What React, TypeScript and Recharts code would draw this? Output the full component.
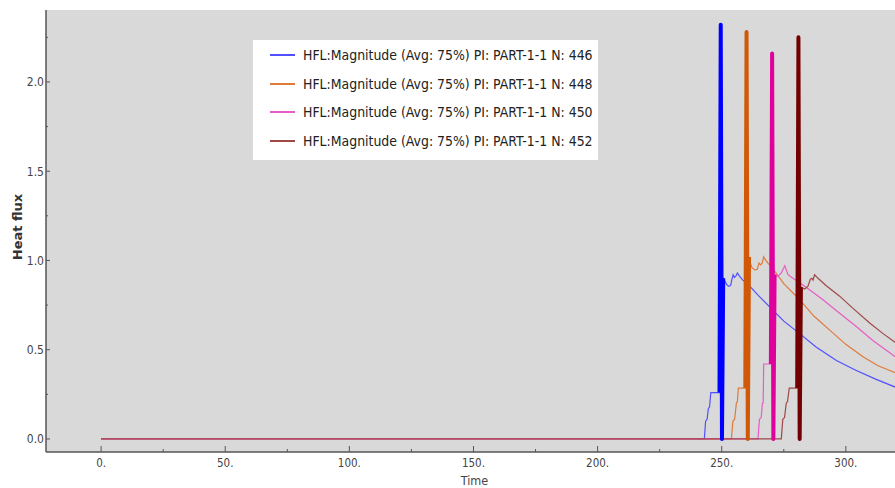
import React from 'react';
import { LineChart, Line, XAxis, YAxis, CartesianGrid, Legend } from 'recharts';

// ---- data ----
const seriesNames = [
  'HFL:Magnitude (Avg: 75%) PI: PART-1-1 N: 446',
  'HFL:Magnitude (Avg: 75%) PI: PART-1-1 N: 448',
  'HFL:Magnitude (Avg: 75%) PI: PART-1-1 N: 450',
  'HFL:Magnitude (Avg: 75%) PI: PART-1-1 N: 452',
];

const t446 = [0, 243.0, 243.5, 244.1, 244.6, 245.1, 245.6, 249.1, 249.6, 250.1, 250.6, 251.3, 252.0, 252.8, 253.6, 254.2, 254.6, 255.1, 255.8, 256.3, 257.0, 258.5, 261, 265, 269.3, 275, 281.4, 288, 296.2, 304, 312, 320];
const v446 = [0, 0, 0.1, 0.11, 0.17, 0.18, 0.26, 0.26, 2.32, 0.0, 0.9, 0.885, 0.865, 0.855, 0.86, 0.9, 0.92, 0.905, 0.915, 0.93, 0.915, 0.89, 0.86, 0.8, 0.74, 0.66, 0.59, 0.515, 0.44, 0.385, 0.335, 0.29];

const t448 = [0, 253.9, 254.5, 255.2, 255.9, 256.3, 256.7, 259.5, 260.0, 260.5, 261.0, 261.4, 262.2, 263.3, 264.3, 265.0, 265.6, 266.3, 266.9, 267.8, 268.6, 270, 275, 281.4, 287, 293.5, 300, 306.9, 313, 320];
const v448 = [0, 0, 0.1, 0.11, 0.2, 0.21, 0.285, 0.285, 2.28, 0.0, 1.02, 0.99, 0.96, 0.947, 0.95, 0.985, 0.975, 0.985, 1.02, 1.0, 0.985, 0.965, 0.87, 0.78, 0.69, 0.61, 0.53, 0.46, 0.41, 0.37];

const t450 = [0, 264.6, 265.2, 265.9, 266.4, 266.7, 266.9, 269.8, 270.3, 270.8, 271.3, 271.8, 272.7, 274.0, 275.4, 276.7, 278.7, 284, 290.8, 297, 304.2, 311, 320];
const v450 = [0, 0, 0.11, 0.12, 0.2, 0.2, 0.42, 0.42, 2.16, 0.0, 0.92, 0.92, 0.91, 0.93, 0.97, 0.92, 0.9, 0.85, 0.78, 0.71, 0.63, 0.55, 0.46];

const t452 = [0, 274.0, 274.6, 275.3, 276.0, 276.5, 277.2, 280.4, 280.9, 281.4, 281.9, 282.2, 283.4, 284.7, 285.7, 286.3, 286.8, 287.4, 288.8, 292, 297.5, 303, 309.6, 315, 320];
const v452 = [0, 0, 0.11, 0.12, 0.2, 0.21, 0.285, 0.285, 2.25, 0.0, 0.85, 0.85, 0.84, 0.855, 0.895, 0.9, 0.89, 0.92, 0.9, 0.86, 0.8, 0.73, 0.65, 0.59, 0.54];

// dense oscillation bands (drawn heavier)
const spikeT446 = [249.1, 249.6, 250.1, 250.6];
const spikeV446 = [0.26, 2.32, 0.0, 0.9];
const spikeT448 = [259.5, 260.0, 260.5, 261.0];
const spikeV448 = [0.285, 2.28, 0.0, 1.02];
const spikeT450 = [269.8, 270.3, 270.8, 271.3];
const spikeV450 = [0.42, 2.16, 0.0, 0.92];
const spikeT452 = [280.4, 280.9, 281.4, 281.9];
const spikeV452 = [0.285, 2.25, 0.0, 0.85];

const xTicks = [0, 25, 50, 75, 100, 125, 150, 175, 200, 225, 250, 275, 300];
const xMajor = [0, 50, 100, 150, 200, 250, 300];
const yTicks = [0, 0.25, 0.5, 0.75, 1.0, 1.25, 1.5, 1.75, 2.0, 2.25];
const yMajor = [0, 0.5, 1.0, 1.5, 2.0];

const lineColors = ['#5050ff', '#e07a3a', '#e85cc4', '#a04848'];
const spikeColors = ['#0000ff', '#d05806', '#e0009c', '#720000'];

const zip = (t: number[], v: number[]) => t.map((x, i) => ({ t: x, v: v[i] }));
const mainData = [zip(t446, v446), zip(t448, v448), zip(t450, v450), zip(t452, v452)];
const spikeData = [zip(spikeT446, spikeV446), zip(spikeT448, spikeV448), zip(spikeT450, spikeV450), zip(spikeT452, spikeV452)];

const AXIS = '#555';
const TXT = '#444';
const FONT = "'DejaVu Sans Condensed', 'DejaVu Sans', sans-serif";

const BM = 4; // bottom tick margin
const BottomTick = (p: any) => {
  const { x, y, payload } = p;
  const v = payload.value;
  const major = xMajor.includes(v);
  const ay = y - BM;
  return (
    <g>
      <line x1={x} x2={x} y1={ay} y2={ay - (major ? 6 : 3)} stroke={AXIS} strokeWidth={1} />
      {major && (
        <text x={x} y={ay + 14.5} textAnchor="middle" fill={TXT} fontSize={11.5} fontFamily={FONT} style={{ fontStretch: 'condensed' }}>
          {`${v}.`}
        </text>
      )}
    </g>
  );
};

const TopTick = (p: any) => {
  const { x, y, payload } = p;
  const major = xMajor.includes(payload.value);
  return <line x1={x} x2={x} y1={y} y2={y + (major ? 7 : 3)} stroke={AXIS} strokeWidth={1} />;
};

const LM = 2;
const LeftTick = (p: any) => {
  const { x, y, payload } = p;
  const v = payload.value;
  const major = yMajor.includes(v);
  const ax = x + LM;
  return (
    <g>
      <line x1={ax} x2={ax + (major ? 4 : 2)} y1={y} y2={y} stroke={AXIS} strokeWidth={1} />
      {major && (
        <text x={ax - 2} y={y} dy="0.36em" textAnchor="end" fill={TXT} fontSize={12} fontFamily={FONT} style={{ fontStretch: 'condensed' }}>
          {v.toFixed(1)}
        </text>
      )}
    </g>
  );
};

const LegendBox = (props: any) => {
  const items = (props.payload || []).filter((e: any) => e.type !== 'none');
  return (
    <div style={{ background: '#fff', width: 345, height: 120, position: 'relative' }}>
      {items.map((e: any, i: number) => (
        <div key={i} style={{ position: 'absolute', left: 0, top: 15 + i * 28.5 - 10, height: 20, display: 'flex', alignItems: 'center' }}>
          <svg width={50} height={20}>
            <line x1={17} x2={42} y1={10} y2={10} stroke={e.color} strokeWidth={2} />
          </svg>
          <span style={{ fontFamily: FONT, fontStretch: 'condensed', fontSize: 13.9, color: '#222', whiteSpace: 'nowrap' }}>{e.value}</span>
        </div>
      ))}
    </div>
  );
};

export default function App() {
  return (
    <div style={{ position: 'absolute', left: 0, top: 0, width: 895, height: 488, background: '#fff' }}>
      <LineChart width={895} height={488} margin={{ top: 10, right: 0, bottom: 0, left: 0 }}>
        <CartesianGrid fill="#d9d9d9" horizontal={false} vertical={false} />
        <XAxis
          dataKey="t"
          type="number"
          domain={[-22.2, 319.8]}
          allowDataOverflow
          ticks={xTicks}
          interval={0}
          height={36}
          tickSize={0}
          tickMargin={BM}
          tickLine={false}
          axisLine={{ stroke: AXIS, strokeWidth: 1.5 }}
          tick={<BottomTick />}
          label={{
            content: (lp: any) => {
              const vb = lp.viewBox;
              return (
                <text x={vb.x + vb.width / 2 + 4} y={vb.y + 33} textAnchor="middle" fill={TXT} fontSize={12.5} fontFamily={FONT} style={{ fontStretch: 'condensed' }}>
                  Time
                </text>
              );
            },
          }}
        />
        <XAxis
          xAxisId="top"
          orientation="top"
          type="number"
          domain={[-22.2, 319.8]}
          allowDataOverflow
          ticks={xTicks}
          interval={0}
          height={0}
          tickSize={0}
          tickMargin={0}
          tickLine={false}
          axisLine={{ stroke: AXIS, strokeWidth: 1.5 }}
          tick={<TopTick />}
        />
        <YAxis
          type="number"
          domain={[-0.073, 2.403]}
          allowDataOverflow
          ticks={yTicks}
          interval={0}
          width={46}
          tickSize={0}
          tickMargin={LM}
          tickLine={false}
          axisLine={{ stroke: AXIS, strokeWidth: 1.5 }}
          tick={<LeftTick />}
          label={{
            content: (lp: any) => {
              const vb = lp.viewBox;
              const cx = vb.x + 17;
              const cy = 227;
              return (
                <text x={cx} y={cy} transform={`rotate(-90 ${cx} ${cy})`} dy="0.36em" textAnchor="middle" fill="#333" fontSize={13} fontWeight="bold" fontFamily="'DejaVu Sans', sans-serif">
                  Heat flux
                </text>
              );
            },
          }}
        />
        <Legend
          layout="vertical"
          align="center"
          verticalAlign="middle"
          wrapperStyle={{ position: 'absolute', left: 253, top: 40, width: 345, height: 120 }}
          content={<LegendBox />}
        />
        {mainData.map((d, i) => (
          <Line
            key={`m${i}`}
            data={d}
            dataKey="v"
            name={seriesNames[i]}
            type="linear"
            stroke={lineColors[i]}
            strokeWidth={1.2}
            dot={false}
            activeDot={false}
            isAnimationActive={false}
          />
        ))}
        {spikeData.map((d, i) => (
          <Line
            key={`s${i}`}
            data={d}
            dataKey="v"
            name={`spike${i}`}
            legendType="none"
            type="linear"
            stroke={spikeColors[i]}
            strokeWidth={4}
            strokeLinejoin="round"
            dot={false}
            activeDot={false}
            isAnimationActive={false}
          />
        ))}
      </LineChart>
    </div>
  );
}
